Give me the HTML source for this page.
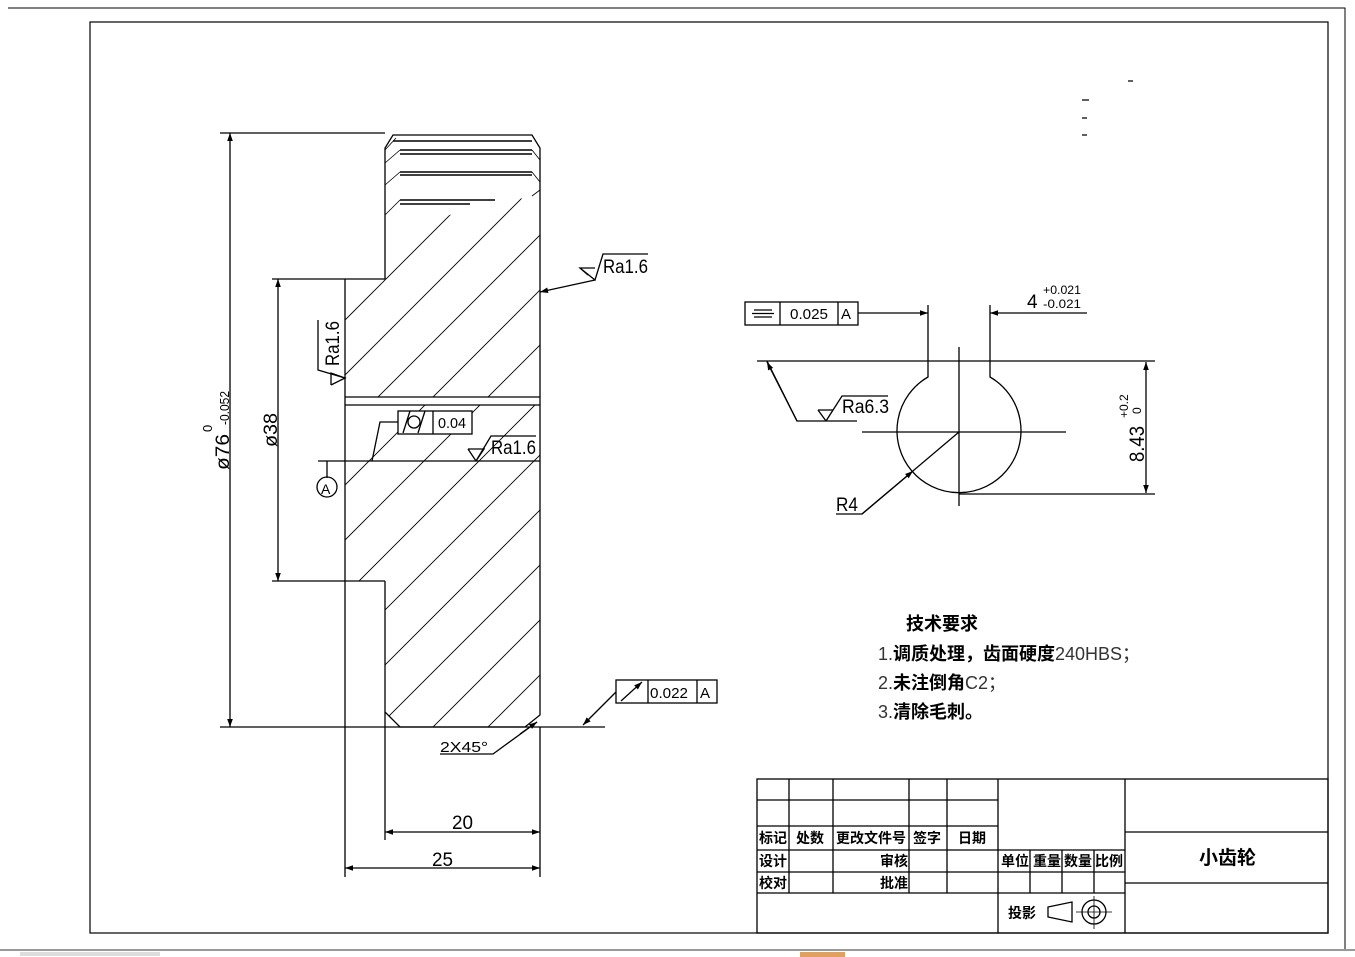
<!DOCTYPE html>
<html><head><meta charset="utf-8"><style>
html,body{margin:0;padding:0;background:#fff;}
svg{display:block;}
text{font-family:"Liberation Sans","Noto Sans CJK SC",sans-serif;fill:#000;}
.t{font-family:"Liberation Sans",sans-serif;font-weight:300;fill:#333;}
.c{font-family:"Noto Sans CJK SC",sans-serif;font-weight:bold;}
</style></head><body>
<svg width="1355" height="957" viewBox="0 0 1355 957" xmlns="http://www.w3.org/2000/svg">
<defs>
<clipPath id="c1"><path d="M345,279 H385 V232 C420,226 460,212 495,199 L540,198 V397 H345Z"/></clipPath>
<clipPath id="c2"><path d="M345,405 H540 V715 L525,727 H400 L385,712 V581 H345Z"/></clipPath>
<marker id="a" viewBox="0 0 10 10" refX="10" refY="5" markerWidth="14" markerHeight="8" markerUnits="userSpaceOnUse" orient="auto-start-reverse"><path d="M0,1.5 L10,5 L0,8.5z" fill="#000"/></marker>
</defs>
<rect width="1355" height="957" fill="#fff"/>
<g fill="none" stroke="#000" stroke-width="1.2">
<path d="M8,8 H1345 V950" stroke-width="1"/>
<line x1="0" y1="950" x2="1355" y2="950" stroke="#999" stroke-width="2"/>
<rect x="90" y="22" width="1238" height="911"/>
</g>
<rect x="800" y="952" width="45" height="5" fill="#e0a060"/>
<rect x="20" y="952" width="140" height="4" fill="#ddd"/>
<!-- hatch -->
<g stroke="#000" stroke-width="0.9" id="hl">
<g clip-path="url(#c1)">
<path d="M345,210 L545,10 M345,265 L545,65 M345,320 L545,120 M345,375 L545,175 M345,430 L545,230 M345,485 L545,285 M345,540 L545,340 M345,595 L545,395"/>
</g>
<g clip-path="url(#c2)">
<path d="M345,485 L545,285 M345,540 L545,340 M345,595 L545,395 M345,650 L545,450 M345,705 L545,505 M345,760 L545,560 M345,815 L545,615 M345,870 L545,670 M345,925 L545,725 M345,980 L545,780"/>
</g>
</g>
<g fill="none" stroke="#000" stroke-width="1.3">
<path d="M385,279 V148 L393,135 H532 L540,148 V715 L525,727 H400 L385,712 V581"/>
<path d="M345,279 V581"/>
<line x1="272" y1="279" x2="385" y2="279"/>
<line x1="272" y1="581" x2="385" y2="581"/>
<line x1="345" y1="397" x2="540" y2="397"/>
<line x1="345" y1="405" x2="540" y2="405"/>
<line x1="318" y1="461" x2="540" y2="461"/>
<path d="M393,141 H532 M400,150 H532 M400,154 H532 M400,172 H532 M400,175 H532 M400,200 H495 M400,204 H470" stroke-width="1.6"/>
<path d="M385,163 L400,150 M385,185 L400,172 M385,215 L400,200 M385,150 L396,138 M532,150 L540,160 M532,172 L540,182 M532,196 L540,190" stroke-width="0.8"/>
<line x1="220" y1="133" x2="385" y2="133"/>
<line x1="220" y1="727" x2="605" y2="727"/>
<line x1="230" y1="133" x2="230" y2="727" marker-start="url(#a)" marker-end="url(#a)"/>
<line x1="278" y1="279" x2="278" y2="581" marker-start="url(#a)" marker-end="url(#a)"/>
<line x1="385" y1="712" x2="385" y2="840"/>
<line x1="345" y1="581" x2="345" y2="877"/>
<line x1="540" y1="727" x2="540" y2="877"/>
<line x1="385" y1="832" x2="540" y2="832" marker-start="url(#a)" marker-end="url(#a)"/>
<line x1="345" y1="868" x2="540" y2="868" marker-start="url(#a)" marker-end="url(#a)"/>
<line x1="595" y1="280" x2="540" y2="292" marker-end="url(#a)"/>
<path d="M580,268 L595,280 L603,254 H648 M588,275 L580,268 H595"/>
<path d="M331,385 L345,378 L318,370 V320 M331,385 L331,373 L345,378"/>
<rect x="398" y="411" width="74" height="23" fill="#fff"/>
<line x1="433" y1="411" x2="433" y2="434"/>
<circle cx="414" cy="422" r="6"/>
<line x1="403" y1="433" x2="410" y2="411"/><line x1="418" y1="433" x2="425" y2="411"/>
<path d="M398,422 H380 L372,461"/>
<path d="M468,449 H484 L476,461 L491,436 H536 M468,449 L476,461"/>
<line x1="327" y1="461" x2="327" y2="478"/>
<circle cx="327" cy="487" r="10"/>
<rect x="616" y="680" width="101" height="23"/>
<line x1="648" y1="680" x2="648" y2="703"/><line x1="697" y1="680" x2="697" y2="703"/>
<line x1="621" y1="701" x2="642" y2="682" marker-end="url(#a)"/>
<line x1="616" y1="692" x2="583" y2="725" marker-end="url(#a)"/>
<path d="M440,754 H493 L537,722" />
<line x1="520" y1="734" x2="537" y2="722" marker-end="url(#a)"/>
<line x1="757" y1="361" x2="1155" y2="361"/>
<line x1="959" y1="494" x2="1155" y2="494"/>
<line x1="1146" y1="362" x2="1146" y2="493" marker-start="url(#a)" marker-end="url(#a)"/>
<path d="M928,305 V377 A62,62 0 1 0 990,377 V305"/>
<line x1="959" y1="347" x2="959" y2="506"/>
<line x1="862" y1="432" x2="1066" y2="432"/>
<line x1="858" y1="313" x2="928" y2="313" marker-end="url(#a)"/>
<line x1="1087" y1="313" x2="990" y2="313" marker-end="url(#a)"/>
<rect x="745" y="302" width="113" height="23"/>
<line x1="780" y1="302" x2="780" y2="325"/><line x1="838" y1="302" x2="838" y2="325"/>
<path d="M754,310 H772 M752,313.5 H774 M754,317 H772"/>
<path d="M857,421 H797 L767,361" />
<line x1="797" y1="421" x2="767" y2="362" marker-end="url(#a)"/>
<path d="M818,410 H833 L826,421 L842,396 H888 M818,410 L826,421"/>
<path d="M836,514 H862 L959,432"/>
<line x1="862" y1="514" x2="913" y2="471" marker-end="url(#a)"/>
<path d="M1128,81 H1133 M1082,100 H1089 M1082,118 H1087 M1082,135 H1087"/>
<rect x="757" y="779" width="571" height="154"/>
<path d="M789,779 V893 M833,779 V893 M909,779 V893 M947,779 V893 M998,779 V933 M1125,779 V933 M757,800 H998 M757,826 H998 M757,850 H1125 M757,872 H1125 M757,893 H1125 M1125,832 H1328 M1125,883 H1328 M1030,850 V893 M1062,850 V893 M1094,850 V893"/>
<path d="M1048,907 L1072,902 V922 L1048,917Z"/>
<circle cx="1094" cy="912" r="12"/><circle cx="1094" cy="912" r="6"/>
<path d="M1076,912 H1112 M1094,896 V929" stroke-width="0.8"/>
</g>
<g class="t" font-size="19" lengthAdjust="spacingAndGlyphs">
<text x="603" y="273" textLength="45" lengthAdjust="spacingAndGlyphs">Ra1.6</text>
<text x="491" y="454" textLength="45" lengthAdjust="spacingAndGlyphs">Ra1.6</text>
<text x="842" y="413" textLength="47" lengthAdjust="spacingAndGlyphs">Ra6.3</text>
<text transform="translate(339,366) rotate(-90)" textLength="45" lengthAdjust="spacingAndGlyphs">Ra1.6</text>
<text transform="translate(277,447) rotate(-90)" textLength="34" lengthAdjust="spacingAndGlyphs">ø38</text>
<text transform="translate(229,470) rotate(-90)" textLength="36" lengthAdjust="spacingAndGlyphs">ø76</text>
<text transform="translate(229,425) rotate(-90)" font-size="13" textLength="34" lengthAdjust="spacingAndGlyphs">-0.052</text>
<text transform="translate(212,432) rotate(-90)" font-size="13">0</text>
<text x="452" y="829" textLength="21" lengthAdjust="spacingAndGlyphs">20</text>
<text x="432" y="866" textLength="21" lengthAdjust="spacingAndGlyphs">25</text>
<text x="440" y="752" font-size="15" textLength="48" lengthAdjust="spacingAndGlyphs">2X45°</text>
<text x="836" y="511" textLength="22" lengthAdjust="spacingAndGlyphs">R4</text>
<text x="1027" y="308">4</text>
<text x="1043" y="294" font-size="12" textLength="38" lengthAdjust="spacingAndGlyphs">+0.021</text>
<text x="1043" y="308" font-size="12" textLength="38" lengthAdjust="spacingAndGlyphs">-0.021</text>
<text transform="translate(1144,462) rotate(-90)" font-size="21" textLength="36" lengthAdjust="spacingAndGlyphs">8.43</text>
<text transform="translate(1128,418) rotate(-90)" font-size="12">+0.2</text>
<text transform="translate(1141,414) rotate(-90)" font-size="12">0</text>
<text x="438" y="428" font-size="15" textLength="28" lengthAdjust="spacingAndGlyphs">0.04</text>
<text x="650" y="698" font-size="15" textLength="38" lengthAdjust="spacingAndGlyphs">0.022</text>
<text x="700" y="698" font-size="15">A</text>
<text x="790" y="319" font-size="15" textLength="38" lengthAdjust="spacingAndGlyphs">0.025</text>
<text x="841" y="319" font-size="15">A</text>
<text x="321" y="494" font-size="14">A</text>
</g>
<g class="c" font-size="18">
<text x="906" y="630">技术要求</text>
<text x="878" y="660"><tspan class="t">1.</tspan>调质处理，齿面硬度<tspan class="t">240HBS；</tspan></text>
<text x="878" y="689"><tspan class="t">2.</tspan>未注倒角<tspan class="t">C2；</tspan></text>
<text x="878" y="718"><tspan class="t">3.</tspan>清除毛刺。</text>
</g>
<g class="c" font-size="14">
<text x="759" y="843">标记</text><text x="796" y="843">处数</text><text x="836" y="843">更改文件号</text><text x="913" y="843">签字</text><text x="958" y="843">日期</text>
<text x="759" y="866">设计</text><text x="880" y="866">审核</text>
<text x="759" y="888">校对</text><text x="880" y="888">批准</text>
<text x="1001" y="866">单位</text><text x="1033" y="866">重量</text><text x="1064" y="866">数量</text><text x="1095" y="866">比例</text>
<text x="1008" y="918">投影</text>
<text x="1199" y="864" font-size="19">小齿轮</text>
</g>
</svg>
</body></html>
